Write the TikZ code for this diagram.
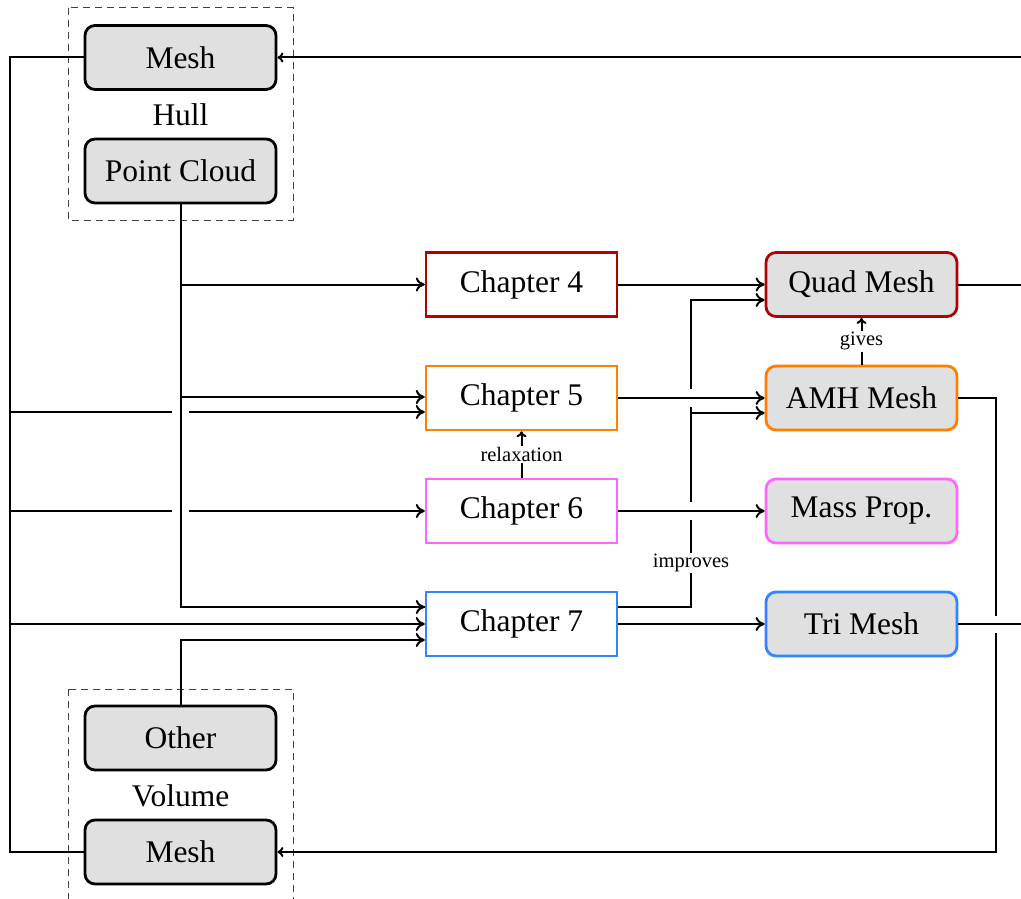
\documentclass[tikz,border=0pt]{standalone}
\usepackage{fontspec}
\setmainfont{Liberation Serif}
\usetikzlibrary{arrows.meta}
\definecolor{cfour}{HTML}{B30000}
\definecolor{cfive}{HTML}{FF8000}
\definecolor{csix}{HTML}{FF66FF}
\definecolor{cseven}{HTML}{3385FF}
\definecolor{boxgray}{HTML}{E0E0E0}
\tikzset{
  big/.style={font=\fontsize{31.5}{36}\selectfont},
  small/.style={font=\fontsize{20.5}{24}\selectfont},
  base/.style={big, minimum width=191pt, minimum height=64pt, inner sep=0pt},
  chapbox/.style={base, draw, line width=2.5pt, fill=white},
  databox/.style={base, draw, line width=2.8pt, fill=boxgray, rounded corners=10pt},
  conn/.style={line width=2pt},
  arr/.style={conn, -{To[length=9pt,width=14pt]}},
  sarr/.style={conn, -{To[length=6pt,width=10pt]}},
  grp/.style={dashed, dash pattern=on 7pt off 5pt, line width=1pt, draw=black!75},
  lab/.style={small, fill=white, inner sep=1.5pt},
}
\begin{document}
\begin{tikzpicture}[x=1pt,y=-1pt]
\useasboundingbox (0,0) rectangle (1021,899);
\clip (0,0) rectangle (1021,899);
% group frames
\draw[grp] (68,8) rectangle (293,220);
\draw[grp] (68,689) rectangle (293,930);
% nodes
\node[databox] (hmesh) at (180.5,57.5) {Mesh};
\node[big] (hull) at (180.5,115) {Hull};
\node[databox] (pc) at (180.5,171) {Point Cloud};
\node[databox] (other) at (180.5,738) {Other};
\node[big] (vol) at (180.5,796) {Volume};
\node[databox] (vmesh) at (180.5,852) {Mesh};
\node[chapbox, draw=cfour] (c4) at (521.5,284.5) {Chapter 4};
\node[chapbox, draw=cfive] (c5) at (521.5,398) {Chapter 5};
\node[chapbox, draw=csix] (c6) at (521.5,511) {Chapter 6};
\node[chapbox, draw=cseven] (c7) at (521.5,624) {Chapter 7};
\node[databox, draw=cfour] (quad) at (861.5,284.5) {Quad Mesh};
\node[databox, draw=cfive] (amh) at (861.5,398) {AMH Mesh};
\node[databox, draw=csix] (mass) at (861.5,511) {Mass Prop.};
\node[databox, draw=cseven] (tri) at (861.5,624) {Tri Mesh};
% coordinates
\coordinate (busT) at (10,57.5);
\coordinate (busB) at (10,852);
\coordinate (far) at (1045,57.5);
% left bus from hull mesh to volume mesh
\draw[conn] (hmesh.west) -- (busT) -- (busB) -- (vmesh.west);
\draw[conn] (10,412) -- (172,412);
\draw[arr] (189,412) -- ([yshift=-14pt]c5.west);
\draw[conn] (10,511) -- (172,511);
\draw[arr] (189,511) -- (c6.west);
\draw[arr] (10,624) -- (c7.west);
% point cloud feed
\draw[conn] (pc.south) -- (180.5,607) -- ([yshift=17pt]c7.west);
\draw[arr] (180.5,607) -- ([yshift=17pt]c7.west);
\draw[arr] (180.5,284.5) -- (c4.west);
\draw[arr] (180.5,397) -- ([yshift=1pt]c5.west);
% other feed
\draw[arr] (other.north) -- (180.5,640) -- ([yshift=-16pt]c7.west);
% chapters to results
\draw[arr] (c4.east) -- (quad.west);
\draw[arr] (c5.east) -- (amh.west);
\draw[arr] (c6.east) -- (mass.west);
\draw[arr] (c7.east) -- (tri.west);
% chapter 7 improves
\draw[conn] ([yshift=17pt]c7.east) -- (691,607) -- (691,520);
\draw[conn] (691,502) -- (691,407);
\draw[arr] (691,389) -- (691,300) -- ([yshift=-15.5pt]quad.west);
\draw[arr] (691,413) -- ([yshift=-15pt]amh.west);
\node[lab] (impr) at (691,563) {improves};
% internal arrows
\draw[sarr] (amh.north) -- node[lab] (gives) {gives} (quad.south);
\draw[sarr] (c6.north) -- node[lab] (relax) {relaxation} (c5.south);
% AMH to volume mesh
\draw[conn] (amh.east) -- (996,398) -- (996,616);
\draw[sarr] (996,633) -- (996,852) -- (vmesh.east);
% right side (beyond frame)
\draw[conn] (quad.east) -- (1045,284.5);
\draw[conn] (tri.east) -- (1045,624) -- (1045,284.5);
\draw[sarr] (1045,284.5) -- (far) -- (hmesh.east);
\end{tikzpicture}
\end{document}
